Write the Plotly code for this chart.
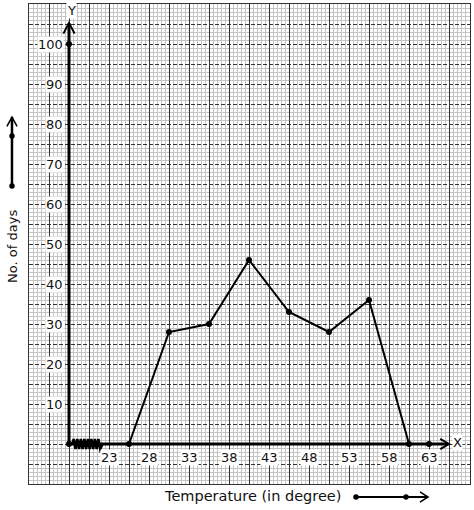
import plotly.graph_objects as go

# ---- data ----
class_marks = [25.5, 30.5, 35.5, 40.5, 45.5, 50.5, 55.5, 60.5]
days = [0, 28, 30, 46, 33, 28, 36, 0]
x_tick_vals = [23, 28, 33, 38, 43, 48, 53, 58, 63]
x_tick_text = ["23", "28", "33", "38", "43", "48", "53", "58", "63"]
y_tick_vals = [10, 20, 30, 40, 50, 60, 70, 80, 90, 100]
y_tick_text = ["10", "20", "30", "40", "50", "60", "70", "80", "90", "100"]
extra_dot_x = [18, 18, 63]
extra_dot_y = [0, 100, 0]
x_origin = 18
x_title = "Temperature (in degree)"
y_title = "No. of days"

FONT = "DejaVu Sans"
fig = go.Figure()

# frequency polygon
fig.add_trace(go.Scatter(x=class_marks, y=days, mode="lines+markers",
                         line=dict(color="black", width=2),
                         marker=dict(color="black", size=6),
                         cliponaxis=False, hoverinfo="skip"))
fig.add_trace(go.Scatter(x=extra_dot_x, y=extra_dot_y, mode="markers",
                         marker=dict(color="black", size=6),
                         cliponaxis=False, hoverinfo="skip"))

shapes = []
# axes lines
shapes.append(dict(type="line", xref="x", yref="y", x0=x_origin, x1=x_origin, y0=0, y1=105.2,
                   line=dict(color="black", width=3)))
shapes.append(dict(type="line", xref="x", yref="y", x0=x_origin, x1=65.4, y0=0, y1=0,
                   line=dict(color="black", width=3)))
# arrow heads
shapes.append(dict(type="path", xref="x", yref="y",
                   path="M 17.3,102.6 L 18,105.3 L 18.7,102.6",
                   line=dict(color="black", width=2)))
shapes.append(dict(type="path", xref="x", yref="y",
                   path="M 64.4,1.3 L 65.5,0 L 64.4,-1.3",
                   line=dict(color="black", width=2)))
# zigzag axis break
zz = []
xz = 18.6
k = 0
while xz <= 22.0:
    yv = 1.25 if k % 2 == 0 else -1.25
    zz.append(f"{xz:.3f},{yv}")
    xz += 0.22
    k += 1
shapes.append(dict(type="path", xref="x", yref="y",
                   path="M 18.4,0 L " + " L ".join(zz) + " L 22.2,0",
                   line=dict(color="black", width=2.6)))

# decorative arrows outside plot (paper coords)
lx = -0.0386
shapes.append(dict(type="line", xref="paper", yref="paper", x0=lx, x1=lx, y0=0.6208, y1=0.7645,
                   line=dict(color="black", width=2.5)))
shapes.append(dict(type="path", xref="paper", yref="paper",
                   path=f"M {lx-0.0115},0.745 L {lx},0.7645 L {lx+0.0115},0.745",
                   line=dict(color="black", width=1.5)))
for yy in (0.725, 0.6208):
    shapes.append(dict(type="circle", xref="paper", yref="paper",
                       x0=lx-0.0062, x1=lx+0.0062, y0=yy-0.0057, y1=yy+0.0057,
                       fillcolor="black", line=dict(color="black", width=0)))
by = -0.0271
shapes.append(dict(type="line", xref="paper", yref="paper", x0=0.7415, x1=0.9048, y0=by, y1=by,
                   line=dict(color="black", width=2)))
shapes.append(dict(type="path", xref="paper", yref="paper",
                   path=f"M 0.8866,{by+0.0105} L 0.9048,{by} L 0.8866,{by-0.0105}",
                   line=dict(color="black", width=1.5)))
for xx in (0.7415, 0.8549):
    shapes.append(dict(type="circle", xref="paper", yref="paper",
                       x0=xx-0.0062, x1=xx+0.0062, y0=by-0.0057, y1=by+0.0057,
                       fillcolor="black", line=dict(color="black", width=0)))

annotations = []
for v, t in zip(y_tick_vals, y_tick_text):
    annotations.append(dict(x=17.4, y=v, xref="x", yref="y", text=t, showarrow=False,
                            xanchor="right", yanchor="middle", bgcolor="white",
                            borderpad=0, font=dict(family=FONT, size=13, color="#111")))
for v, t in zip(x_tick_vals, x_tick_text):
    annotations.append(dict(x=v, y=-3.3, xref="x", yref="y", text=t, showarrow=False,
                            xanchor="center", yanchor="middle", bgcolor="white",
                            borderpad=0, font=dict(family=FONT, size=13, color="#111")))
annotations.append(dict(x=18.3, y=108.3, xref="x", yref="y", text="Y", showarrow=False,
                        xanchor="center", yanchor="middle", bgcolor="white", borderpad=0,
                        font=dict(family=FONT, size=13, color="#111")))
annotations.append(dict(x=66.6, y=0.3, xref="x", yref="y", text="X", showarrow=False,
                        xanchor="center", yanchor="middle", bgcolor="white", borderpad=0,
                        font=dict(family=FONT, size=13, color="#111")))
annotations.append(dict(x=0.507, y=-0.025, xref="paper", yref="paper", text=x_title,
                        showarrow=False, xanchor="center", yanchor="middle",
                        font=dict(family=FONT, size=14.5, color="#111")))
annotations.append(dict(x=-0.0363, y=0.496, xref="paper", yref="paper", text=y_title,
                        showarrow=False, xanchor="center", yanchor="middle", textangle=-90,
                        font=dict(family=FONT, size=13, color="#111")))

fig.update_layout(
    width=474, height=510,
    margin=dict(l=29, r=4, t=4, b=26),
    paper_bgcolor="white", plot_bgcolor="white",
    showlegend=False,
    shapes=shapes, annotations=annotations,
    xaxis=dict(range=[13, 68.125], showticklabels=False, ticks="",
               tick0=13, dtick=2.5, showgrid=True, gridcolor="#333", gridwidth=1,
               minor=dict(tick0=13, dtick=0.5, showgrid=True, gridcolor="#c4c4c4", gridwidth=1,
                          griddash="solid"),
               showline=True, linecolor="#333", linewidth=1, mirror=True, zeroline=False,
               fixedrange=True),
    yaxis=dict(range=[-10, 110], showticklabels=False, ticks="",
               tick0=-10, dtick=5, showgrid=True, gridcolor="#333", gridwidth=1,
               griddash="4px,2px",
               minor=dict(tick0=-10, dtick=1, showgrid=True, gridcolor="#c4c4c4", gridwidth=1,
                          griddash="solid"),
               showline=True, linecolor="#333", linewidth=1, mirror=True, zeroline=False,
               fixedrange=True),
)

fig.write_html("out.html", config={"displayModeBar": False},
               post_script="document.body.style.margin='0px';document.body.style.overflow='hidden';")
